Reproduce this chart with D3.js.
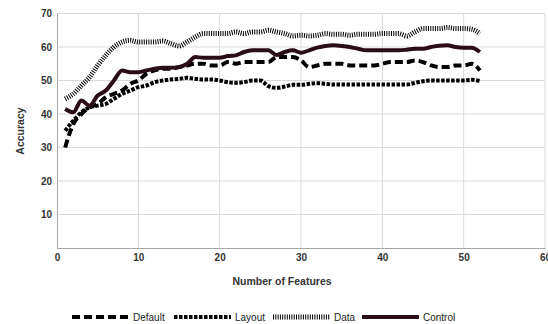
<!DOCTYPE html>
<html>
<head>
<meta charset="utf-8">
<script src="https://cdn.jsdelivr.net/npm/d3@7"></script>
<style>
  body { margin: 0; background: #fff; }
  text { font-family: "Liberation Sans", Arial, sans-serif; }
</style>
</head>
<body>
<script>
// données
const features = d3.range(1, 53);

const defaultAcc = [30, 37, 40, 42, 43, 45, 46, 47, 49, 50, 52, 53, 53.5, 53.5, 54, 54.5, 55, 55, 54.5, 54.5,
  55.5, 55, 55.5, 55.5, 55.5, 55.5, 57, 57, 57, 56, 54, 54.5, 55, 55, 55, 54.5, 54.5, 54.5, 54.5, 55,
  55.5, 55.5, 55.5, 56, 55.5, 54.5, 54, 54, 54.5, 54.5, 55, 53];

const layoutAcc = [35, 38, 40.5, 42, 42.5, 43, 44.5, 46, 47, 48, 48.5, 49.5, 50, 50.3, 50.5, 50.8, 50.5, 50.3, 50.3, 50,
  49.5, 49.3, 49.5, 50, 50, 48.3, 47.8, 48.2, 48.7, 48.7, 49, 49.2, 49, 48.8, 48.8, 48.8, 48.8, 48.8, 48.8, 48.8,
  48.8, 48.8, 48.8, 49.3, 49.8, 50, 50, 50, 50, 50, 50.2, 49.8];

const dataAcc = [44.5, 46, 48.5, 51, 54.5, 57.5, 60, 61.5, 62, 61.5, 61.5, 61.5, 61.8, 61, 60.3, 61.5, 63, 64, 64, 64,
  64, 64.5, 64, 64.5, 64.5, 65, 64.5, 64, 63.3, 63.5, 63.3, 63.5, 64, 63.8, 63.8, 63.5, 63.8, 63.8, 63.8, 64,
  64, 64, 63.3, 64.5, 65.5, 65.5, 65.5, 65.8, 65.5, 65.5, 65.3, 64];

const controlAcc = [41.5, 40.5, 44, 42.5, 45.5, 47, 50, 53, 52.5, 52.5, 53, 53.5, 53.8, 53.8, 54, 55, 57, 56.8, 56.8, 56.8,
  57.3, 57.5, 58.5, 59, 59, 59, 57.6, 58.5, 59, 58.3, 59, 59.8, 60.3, 60.5, 60.3, 60, 59.5, 59, 59, 59,
  59, 59, 59.2, 59.5, 59.5, 60, 60.4, 60.5, 60, 59.8, 59.8, 58.5];

const seriesNames = ["Default", "Layout", "Data", "Control"];
const xTicks = [0, 10, 20, 30, 40, 50, 60];
const yTicks = [10, 20, 30, 40, 50, 60, 70];

const series = [
  { name: "Default", values: defaultAcc, color: "#000", width: 4, dash: "8,4" },
  { name: "Layout", values: layoutAcc, color: "#000", width: 4, dash: "3.5,1.5" },
  { name: "Data", values: dataAcc, color: "#000", width: 5, dash: "1,1.3" },
  { name: "Control", values: controlAcc, color: "#2b0d17", width: 4, dash: null }
];

let svg = d3.select("body")
  .append("svg")
  .attr("width", 548)
  .attr("height", 324);

const x = d3.scaleLinear().domain([0, 60]).range([57, 545]);
const y = d3.scaleLinear().domain([0, 70]).range([248, 13.5]);

// grille
svg.append("g")
  .selectAll("line")
  .data(xTicks.slice(1))
  .join("line")
  .attr("x1", d => x(d)).attr("x2", d => x(d))
  .attr("y1", y(0)).attr("y2", y(70))
  .attr("stroke", "#d9d9d9");

svg.append("g")
  .selectAll("line")
  .data(yTicks)
  .join("line")
  .attr("x1", x(0)).attr("x2", x(60))
  .attr("y1", d => y(d)).attr("y2", d => y(d))
  .attr("stroke", "#d9d9d9");

// axes
const xAxis = svg.append("g")
  .attr("transform", `translate(0,${y(0)})`)
  .call(d3.axisBottom(x).tickValues(xTicks).tickSize(0).tickPadding(6));
xAxis.select(".domain").attr("stroke", "#a6a6a6");

const yAxis = svg.append("g")
  .attr("transform", `translate(${x(0)},0)`)
  .call(d3.axisLeft(y).tickValues(yTicks).tickSize(0).tickPadding(5));
yAxis.select(".domain").attr("stroke", "#a6a6a6");

svg.selectAll(".tick text")
  .style("font-family", "Liberation Sans, Arial, sans-serif")
  .style("font-size", "10px")
  .style("font-weight", "bold")
  .attr("fill", "#333");

// courbes
const line = d3.line()
  .x((d, i) => x(features[i]))
  .y(d => y(d))
  .curve(d3.curveMonotoneX);

svg.append("g")
  .selectAll("path")
  .data(series)
  .join("path")
  .attr("d", d => line(d.values))
  .attr("fill", "none")
  .attr("stroke", d => d.color)
  .attr("stroke-width", d => d.width)
  .attr("stroke-dasharray", d => d.dash);

// titres
svg.append("text")
  .attr("x", 282)
  .attr("y", 285)
  .attr("text-anchor", "middle")
  .style("font-size", "10.5px")
  .style("font-weight", "bold")
  .attr("fill", "#333")
  .text("Number of Features");

svg.append("text")
  .attr("transform", "translate(24,131) rotate(-90)")
  .attr("text-anchor", "middle")
  .style("font-size", "10.5px")
  .style("font-weight", "bold")
  .attr("fill", "#333")
  .text("Accuracy");

// légende
const legendX = [72, 174, 273, 362];
const legend = svg.append("g")
  .selectAll("g")
  .data(series)
  .join("g")
  .attr("transform", (d, i) => `translate(${legendX[i]},317)`);

legend.append("line")
  .attr("x1", 0).attr("x2", 57)
  .attr("stroke", d => d.color)
  .attr("stroke-width", d => d.width)
  .attr("stroke-dasharray", d => d.dash);

legend.append("text")
  .attr("x", 61)
  .attr("y", 4)
  .style("font-size", "10px")
  .attr("fill", "#222")
  .text((d, i) => seriesNames[i]);
</script>
</body>
</html>
